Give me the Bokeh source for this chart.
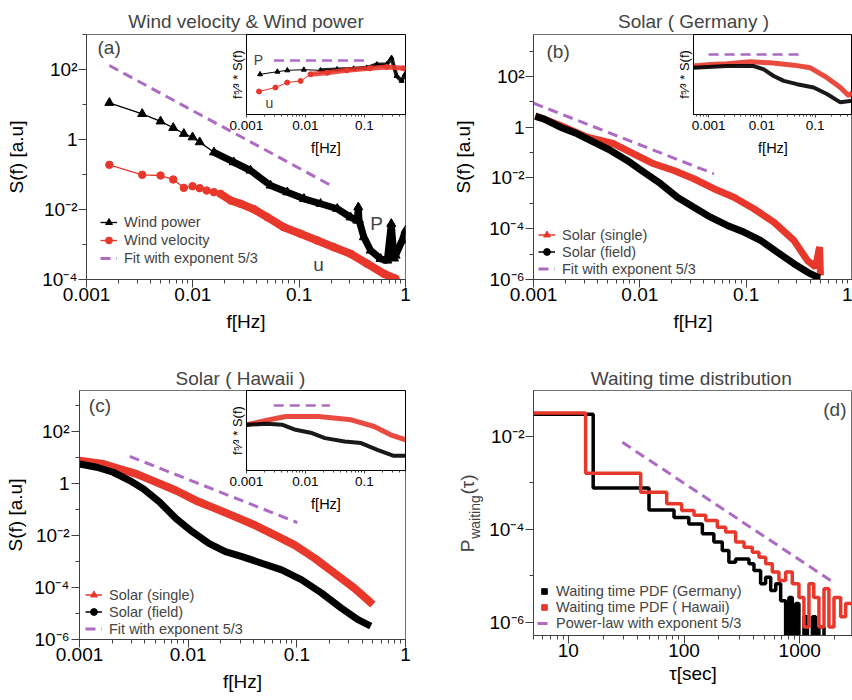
import math
from bokeh.plotting import figure
from bokeh.models import (Range1d, FixedTicker, CustomJSTickFormatter, Legend,
                          LegendItem, Label, GridBox)
from bokeh.embed import file_html
from bokeh.resources import INLINE

FONT = "Liberation Sans"
RED = "#e8372b"
PURPLE = "#ad6bc4"
FRAME = "#707070"
AXIS = "#404040"

# ---------------- tick labels ----------------
f_ticks = [0.001, 0.01, 0.1, 1]
f_tick_labels = ["0.001", "0.01", "0.1", "1"]
inset_f_ticks = [0.001, 0.01, 0.1]
inset_f_tick_labels = ["0.001", "0.01", "0.1"]
S_ticks_a = [1e-4, 1e-2, 1, 1e2]
S_tick_labels_a = ["10⁻⁴", "10⁻²", "1", "10²"]
S_ticks_bc = [1e-6, 1e-4, 1e-2, 1, 1e2]
S_tick_labels_bc = ["10⁻⁶", "10⁻⁴", "10⁻²", "1", "10²"]
tau_ticks = [10, 100, 1000]
tau_tick_labels = ["10", "100", "1000"]
P_ticks = [1e-6, 1e-4, 1e-2]
P_tick_labels = ["10⁻⁶", "10⁻⁴", "10⁻²"]

# ---------------- (a) wind ----------------
wp_f = [0.00164, 0.00334, 0.00497, 0.00654, 0.00823, 0.00994, 0.0116, 0.0158, 0.0243,
        0.0349, 0.0538, 0.0774, 0.111, 0.159, 0.228, 0.304, 0.352, 0.36, 0.365, 0.406,
        0.47, 0.583, 0.674, 0.735, 0.78, 0.807, 0.93, 1.0]
wp_S = [11.2, 5.4, 3.3, 2.16, 1.46, 1.16, 0.84, 0.43, 0.224,
        0.130, 0.0485, 0.0312, 0.0202, 0.0146, 0.0105, 0.006, 0.00485, 0.0116, 0.005, 0.00162,
        0.000674, 0.00039, 0.000349, 0.0039, 0.0004, 0.000485, 0.0013, 0.0025]
wv_f = [0.00164, 0.00334, 0.00497, 0.00654, 0.00823, 0.00994, 0.0116, 0.0135, 0.0158,
        0.0182, 0.0227, 0.0281, 0.0375, 0.0501, 0.0718, 0.103, 0.148, 0.212, 0.304,
        0.437, 0.626, 0.807]
wv_S = [0.189, 0.098, 0.0936, 0.072, 0.0416, 0.0463, 0.0406, 0.0349, 0.0312,
        0.0281, 0.0181, 0.0146, 0.0102, 0.00603, 0.00312, 0.00202, 0.0013, 0.000838, 0.000542,
        0.000281, 0.000146, 0.000105]
fit_a_f = [0.00164, 0.205]
fit_a_S = [130, 0.0464]

# inset (a): compensated spectra (arbitrary units)
ia_P_f = [0.0017, 0.00334, 0.00493, 0.0094, 0.018, 0.0344, 0.0657, 0.11, 0.163, 0.241,
          0.29, 0.353, 0.43, 0.49]
ia_P_v = [5.02, 5.35, 5.52, 5.6, 5.52, 5.64, 5.72, 5.84, 6.26, 6.26, 7.07, 4.81, 4.2, 5.02]
ia_u_f = [0.00163, 0.0031, 0.0049, 0.0083, 0.0122, 0.0233, 0.0506, 0.126, 0.241, 0.46]
ia_u_v = [2.88, 3.37, 3.99, 4.2, 5.02, 5.22, 5.52, 5.77, 5.93, 5.77]
ia_fit_f = [0.00292, 0.099]
ia_fit_v = [6.75, 6.75]

# ---------------- (b) solar Germany ----------------
gs_f = [0.00104, 0.00179, 0.0032, 0.0057, 0.00877, 0.0135, 0.0209, 0.0322, 0.0497,
        0.0766, 0.118, 0.182, 0.281, 0.376, 0.45, 0.49, 0.5]
gs_S = [2.8, 1.17, 0.404, 0.222, 0.0897, 0.0362, 0.0197, 0.0093, 0.00376,
        0.00175, 0.000612, 0.000182, 3.47e-5, 5.65e-6, 3.1e-6, 1.9e-5, 1.45e-6]
gf_f = [0.00104, 0.00125, 0.00179, 0.00258, 0.00369, 0.0053, 0.0076, 0.0109, 0.0157,
        0.0225, 0.0322, 0.0462, 0.0664, 0.0951, 0.1365, 0.196, 0.281, 0.376, 0.467, 0.5]
gf_S = [2.64, 2.14, 1.0, 0.55, 0.257, 0.121, 0.0489, 0.0169, 0.00592,
        0.00175, 0.000708, 0.000286, 0.000135, 7.35e-5, 3.47e-5, 1.2e-5, 4.19e-6, 1.96e-6,
        1.24e-6, 1.2e-6]
fit_b_f = [0.001, 0.0497]
fit_b_S = [8.8, 0.0146]

ib_s_f = [0.00052, 0.00108, 0.00221, 0.00606, 0.0144, 0.0394, 0.081, 0.166, 0.296, 0.424, 0.5]
ib_s_v = [6.05, 6.26, 6.33, 6.58, 6.46, 6.17, 5.84, 4.6, 3.37, 2.35, 2.75]
ib_f_f = [0.00052, 0.00221, 0.007, 0.0108, 0.0166, 0.0256, 0.0456, 0.0934, 0.166, 0.296, 0.5]
ib_f_v = [5.84, 6.05, 6.05, 5.64, 4.81, 4.2, 3.79, 3.37, 2.56, 1.52, 1.73]
ib_fit_f = [0.001, 0.0566]
ib_fit_v = [7.49, 7.49]

# ---------------- (c) solar Hawaii ----------------
hs_f = [0.001, 0.00166, 0.00235, 0.00333, 0.00507, 0.00772, 0.0117, 0.0179, 0.0272,
        0.0413, 0.0629, 0.0957, 0.146, 0.222, 0.337, 0.447, 0.5]
hs_S = [7.55, 5.65, 3.64, 2.35, 1.13, 0.54, 0.224, 0.108, 0.0522,
        0.0249, 0.0104, 0.0043, 0.00134, 0.000357, 9.6e-5, 3.4e-5, 2.2e-5]
hf_f = [0.001, 0.00144, 0.00204, 0.0029, 0.00386, 0.00545, 0.00772, 0.0109, 0.0155,
        0.022, 0.0313, 0.0475, 0.0724, 0.11, 0.168, 0.255, 0.362, 0.479]
hf_S = [5.65, 4.23, 2.72, 1.3, 0.628, 0.195, 0.045, 0.014, 0.005,
        0.00241, 0.00155, 0.00086, 0.000478, 0.0002, 6.2e-5, 1.65e-5, 5.9e-6, 3.3e-6]
fit_c_f = [0.0029, 0.101]
fit_c_S = [11.1, 0.0316]

ic_s_f = [0.001, 0.00245, 0.00464, 0.0167, 0.06, 0.147, 0.279, 0.5]
ic_s_v = [5.71, 6.34, 6.75, 6.75, 6.34, 5.5, 4.46, 3.84]
ic_f_f = [0.001, 0.00215, 0.0041, 0.00681, 0.0129, 0.0215, 0.0464, 0.0881, 0.167, 0.316, 0.5]
ic_f_v = [5.71, 5.84, 5.71, 5.09, 4.68, 4.05, 3.63, 3.43, 2.59, 1.84, 1.84]
ic_fit_f = [0.0029, 0.0261]
ic_fit_v = [8.13, 8.13]

# ---------------- (d) waiting times (histogram bin edges / values) ----------------
EMPTY = 1e-9   # empty bin, falls below the axis floor
ger_edges = [4, 16.4, 49.8, 81.9, 110, 144, 181, 214, 244, 279, 364, 402, 459, 507, 561,
             620, 684, 755, 807, 862, 922, 984, 1087, 1164, 1286, 1374, 1465, 1620, 1800]
ger_P = [0.030, 7.8e-4, 2.6e-4, 1.8e-4, 1.3e-4, 8.0e-5, 5.3e-5, 3.5e-5, 1.95e-5, 2.3e-5,
         1.8e-5, 1.3e-5, 6.7e-6, 9.3e-6, 4.8e-6, 6.7e-6, 2.9e-6, EMPTY, 3.4e-6, EMPTY,
         2.5e-6, EMPTY, 1.3e-6, EMPTY, 1.3e-6, EMPTY, 7.8e-7, EMPTY]
haw_edges = [4, 14.1, 42.2, 70.8, 95.3, 122, 154, 194, 229, 279, 330, 389, 444, 507, 579,
             661, 755, 862, 984, 1087, 1201, 1322, 1465, 1620, 1787, 1976, 2257, 2493, 2865]
haw_P = [0.032, 1.62e-3, 6.3e-4, 3.55e-4, 2.54e-4, 2.0e-4, 1.55e-4, 1.11e-4, 8.7e-5, 5.3e-5,
         4.1e-5, 3.2e-5, 2.5e-5, 1.8e-5, 1.2e-5, 7.9e-6, 1.2e-5, 6.7e-6, 3.4e-6, 7.8e-7,
         6.7e-6, 3.4e-6, 7.8e-7, 5.2e-6, 7.8e-7, 3.4e-6, 1.3e-6, 2.5e-6]
fit_d_tau = [29.3, 2042]
fit_d_P = [7.5e-3, 6.7e-6]

TITLE_A = "Wind velocity & Wind power"
TITLE_B = "Solar ( Germany )"
TITLE_C = "Solar ( Hawaii )"
TITLE_D = "Waiting time distribution"


def decade_minors(lo, hi):
    return [m * 10.0 ** e for e in range(lo, hi) for m in range(2, 10)]


def odd_decades(lo, hi):
    return [10.0 ** e for e in range(lo, hi, 2)]


def log_formatter(vals, labs):
    return CustomJSTickFormatter(args=dict(vals=vals, labs=labs), code="""
        for (let i = 0; i < vals.length; i++) {
            if (Math.abs(Math.log10(tick) - Math.log10(vals[i])) < 1e-6) { return labs[i]; }
        }
        return "";
    """)


def style_axis(ax, lab_size="19px", axlab_size="19px", tick_out=8, minor_out=4):
    ax.axis_line_color = AXIS
    ax.major_tick_line_color = AXIS
    ax.minor_tick_line_color = AXIS
    ax.major_tick_out = tick_out
    ax.major_tick_in = 0
    ax.minor_tick_out = minor_out
    ax.minor_tick_in = 0
    ax.major_label_text_font = FONT
    ax.major_label_text_font_size = lab_size
    ax.major_label_text_color = "black"
    ax.axis_label_text_font = FONT
    ax.axis_label_text_font_size = axlab_size
    ax.axis_label_text_font_style = "normal"
    ax.axis_label_text_color = "black"


def make_main(xr, yr, fw, fh, bl, br, bt, bb, x_std=0, x_lab_std=7, y_std=1, y_lab_std=12):
    p = figure(x_axis_type="log", y_axis_type="log",
               x_range=Range1d(*xr), y_range=Range1d(*yr),
               frame_width=fw, frame_height=fh,
               min_border_left=bl, min_border_right=br, min_border_top=bt, min_border_bottom=bb,
               output_backend="svg", toolbar_location=None)
    p.grid.visible = False
    p.outline_line_color = FRAME
    p.background_fill_color = "white"
    p.border_fill_color = "white"
    style_axis(p.xaxis[0])
    style_axis(p.yaxis[0])
    p.xaxis[0].major_label_standoff = x_std
    p.xaxis[0].axis_label_standoff = x_lab_std
    p.yaxis[0].major_label_standoff = y_std
    p.yaxis[0].axis_label_standoff = y_lab_std
    return p


def make_inset(xr, fw, bl, br, bt, bb):
    p = figure(x_axis_type="log", x_range=Range1d(*xr), y_range=Range1d(0, 10),
               frame_width=fw, frame_height=80,
               min_border_left=bl, min_border_right=br, min_border_top=bt, min_border_bottom=bb,
               output_backend="svg", toolbar_location=None)
    p.grid.visible = False
    p.border_fill_color = None
    p.background_fill_color = "white"
    p.outline_line_color = "black"
    xa = p.xaxis[0]
    style_axis(xa, lab_size="13.5px", axlab_size="14.5px", tick_out=3, minor_out=2)
    xa.axis_line_color = "black"
    xa.ticker = FixedTicker(ticks=inset_f_ticks, minor_ticks=decade_minors(-4, 0))
    xa.formatter = log_formatter(inset_f_ticks, inset_f_tick_labels)
    xa.axis_label = "f[Hz]"
    xa.major_label_standoff = 3
    xa.axis_label_standoff = 7
    ya = p.yaxis[0]
    style_axis(ya, lab_size="0px", axlab_size="13px", tick_out=0, minor_out=0)
    ya.axis_line_color = "black"
    ya.ticker = FixedTicker(ticks=[])
    ya.major_label_standoff = 0
    ya.axis_label_standoff = 2
    ya.axis_label = "f⁵⁄³ * S(f)"
    return p


def add_text(p, x, y, text, size="19px", align="left", baseline="middle", angle=0.0):
    p.add_layout(Label(x=x, y=y, text=text, text_font=FONT, text_font_size=size,
                       text_align=align, text_baseline=baseline, angle=angle))


def add_legend(p, items, loc, item_h, spacing=0, glyph_w=17, standoff=7):
    lg = Legend(items=items, location=loc, spacing=spacing, padding=0, margin=0,
                glyph_height=item_h, glyph_width=glyph_w, label_height=item_h,
                label_standoff=standoff, border_line_color=None, background_fill_alpha=0,
                label_text_font=FONT, label_text_font_size="14.5px", inactive_fill_alpha=0)
    p.add_layout(lg)


def dashed(p, x, y, width=3):
    return p.line(x, y, color=PURPLE, line_width=width, line_dash="10 6")


# ======================= (a) =======================
pa = make_main((0.001, 1), (1e-4, 1e3), 319, 245, 86, 15, 34, 73)
pa.xaxis[0].ticker = FixedTicker(ticks=f_ticks, minor_ticks=decade_minors(-3, 0))
pa.xaxis[0].formatter = log_formatter(f_ticks, f_tick_labels)
pa.yaxis[0].ticker = FixedTicker(ticks=S_ticks_a, minor_ticks=odd_decades(-5, 5))
pa.yaxis[0].formatter = log_formatter(S_ticks_a, S_tick_labels_a)
pa.xaxis[0].axis_label = "f[Hz]"
pa.yaxis[0].axis_label = "S(f) [a.u]"

ra_fit = dashed(pa, fit_a_f, fit_a_S)
pa.line(wv_f[9:], wv_S[9:], color=RED, line_width=8)
ra_v_line = pa.line(wv_f, wv_S, color=RED, line_width=1.3)
ra_v_mk = pa.scatter(wv_f, wv_S, marker="circle", size=7.5, color=RED)
pa.line(wp_f[7:], wp_S[7:], color="black", line_width=7)
ra_p_line = pa.line(wp_f, wp_S, color="black", line_width=1.3)
ra_p_mk = pa.scatter(wp_f, wp_S, marker="triangle", size=9, color="black")
add_legend(pa, [LegendItem(label="Wind power", renderers=[ra_p_line, ra_p_mk]),
                LegendItem(label="Wind velocity", renderers=[ra_v_line, ra_v_mk]),
                LegendItem(label="Fit with exponent 5/3", renderers=[ra_fit])],
           (14, 12), 18)

ia = make_inset((0.001, 0.5), 159, 33, 15, 34, 66)
dashed(ia, ia_fit_f, ia_fit_v, width=2.5)
ia.line(ia_P_f, ia_P_v, color="black", line_width=1)
ia.line(ia_P_f[4:], ia_P_v[4:], color="black", line_width=4, alpha=0.85)
ia.scatter(ia_P_f, ia_P_v, marker="triangle", size=5, color="black")
ia.line(ia_u_f, ia_u_v, color=RED, line_width=1)
ia.line(ia_u_f[4:], ia_u_v[4:], color=RED, line_width=5, alpha=0.85)
ia.scatter(ia_u_f, ia_u_v, marker="circle", size=5, color=RED)

# ======================= (b) =======================
pb = make_main((0.001, 1), (1e-6, 4467), 319, 245, 113, 0, 34, 73)
pb.xaxis[0].ticker = FixedTicker(ticks=f_ticks, minor_ticks=decade_minors(-3, 0))
pb.xaxis[0].formatter = log_formatter(f_ticks, f_tick_labels)
pb.yaxis[0].ticker = FixedTicker(ticks=S_ticks_bc, minor_ticks=odd_decades(-7, 5))
pb.yaxis[0].formatter = log_formatter(S_ticks_bc, S_tick_labels_bc)
pb.xaxis[0].axis_label = "f[Hz]"
pb.yaxis[0].axis_label = "S(f) [a.u]"

rb_fit = dashed(pb, fit_b_f, fit_b_S)
pb.line(gs_f, gs_S, color=RED, line_width=7)
pb.line(gf_f, gf_S, color="black", line_width=7)
rb_s_l = pb.line(gs_f, gs_S, color=RED, line_width=1.5, visible=False)
rb_s_m = pb.scatter(gs_f, gs_S, marker="triangle", size=5, color=RED, visible=False)
rb_f_l = pb.line(gf_f, gf_S, color="black", line_width=1.5, visible=False)
rb_f_m = pb.scatter(gf_f, gf_S, marker="circle", size=7, color="black", visible=False)
add_legend(pb, [LegendItem(label="Solar (single)", renderers=[rb_s_l, rb_s_m]),
                LegendItem(label="Solar (field)", renderers=[rb_f_l, rb_f_m]),
                LegendItem(label="Fit with exponent 5/3", renderers=[rb_fit])],
           (5, 2), 17)

ib = make_inset((0.00052, 0.5), 159, 25, 0, 34, 66)
dashed(ib, ib_fit_f, ib_fit_v, width=2.5)
ib.line(ib_s_f, ib_s_v, color=RED, line_width=5, alpha=0.9)
ib.line(ib_f_f, ib_f_v, color="black", line_width=4, alpha=0.9)

# ======================= (c) =======================
pc = make_main((0.001, 1), (1e-6, 3800), 329, 249, 74, 15, 38, 59, y_std=2, y_lab_std=5)
pc.xaxis[0].ticker = FixedTicker(ticks=f_ticks, minor_ticks=decade_minors(-3, 0))
pc.xaxis[0].formatter = log_formatter(f_ticks, f_tick_labels)
pc.yaxis[0].ticker = FixedTicker(ticks=S_ticks_bc, minor_ticks=odd_decades(-7, 5))
pc.yaxis[0].formatter = log_formatter(S_ticks_bc, S_tick_labels_bc)
pc.xaxis[0].axis_label = "f[Hz]"
pc.yaxis[0].axis_label = "S(f) [a.u]"

rc_fit = dashed(pc, fit_c_f, fit_c_S)
pc.line(hs_f, hs_S, color=RED, line_width=8)
pc.line(hf_f, hf_S, color="black", line_width=7)
rc_s_l = pc.line(hs_f, hs_S, color=RED, line_width=1.5, visible=False)
rc_s_m = pc.scatter(hs_f, hs_S, marker="triangle", size=7, color=RED, visible=False)
rc_f_l = pc.line(hf_f, hf_S, color="black", line_width=1.5, visible=False)
rc_f_m = pc.scatter(hf_f, hf_S, marker="circle", size=8, color="black", visible=False)
add_legend(pc, [LegendItem(label="Solar (single)", renderers=[rc_s_l, rc_s_m]),
                LegendItem(label="Solar (field)", renderers=[rc_f_l, rc_f_m]),
                LegendItem(label="Fit with exponent 5/3", renderers=[rc_fit])],
           (6, 2), 17)

ic = make_inset((0.001, 0.5), 159, 33, 15, 38, 60)
dashed(ic, ic_fit_f, ic_fit_v, width=2.5)
ic.line(ic_s_f, ic_s_v, color=RED, line_width=5, alpha=0.9)
ic.line(ic_f_f, ic_f_v, color="black", line_width=4, alpha=0.9)

# ======================= (d) =======================
pd_ = make_main((5, 2857), (5.14e-7, 0.098), 319, 245, 113, 0, 38, 65, x_lab_std=3)
pd_.xaxis[0].ticker = FixedTicker(ticks=tau_ticks,
                                  minor_ticks=[m * 10.0 ** e for e in range(0, 4) for m in range(2, 10)])
pd_.xaxis[0].formatter = log_formatter(tau_ticks, tau_tick_labels)
pd_.yaxis[0].ticker = FixedTicker(ticks=P_ticks, minor_ticks=odd_decades(-7, 0))
pd_.yaxis[0].formatter = log_formatter(P_ticks, P_tick_labels)
pd_.xaxis[0].axis_label = "τ[sec]"

pd_.step(ger_edges, ger_P + [ger_P[-1]], mode="after", color="black", line_width=3.5)
pd_.step(haw_edges, haw_P + [haw_P[-1]], mode="after", color=RED, line_width=3.5)
rd_fit = dashed(pd_, fit_d_tau, fit_d_P)
rd_g_m = pd_.scatter(ger_edges[:-1], ger_P, marker="square", size=11, color="black", visible=False)
rd_h_m = pd_.scatter(haw_edges[:-1], haw_P, marker="square", size=11, color=RED, visible=False)
add_legend(pd_, [LegendItem(label="Waiting time PDF (Germany)", renderers=[rd_g_m]),
                 LegendItem(label="Waiting time PDF ( Hawaii)", renderers=[rd_h_m]),
                 LegendItem(label="Power-law with exponent 5/3", renderers=[rd_fit])],
           (4, 4), 14, spacing=-7, glyph_w=14, standoff=5)

# ============ transparent text layer (page pixel coordinates) ============
tl = figure(x_range=Range1d(1, 851), y_range=Range1d(699, 1),
            frame_width=850, frame_height=698, min_border=0,
            min_border_left=0, min_border_right=0, min_border_top=0, min_border_bottom=0,
            x_axis_location=None, y_axis_location=None, title=None,
            output_backend="svg", toolbar_location=None)
tl.grid.visible = False
tl.outline_line_color = None
tl.background_fill_color = None
tl.border_fill_color = None
# panel titles
add_text(tl, 245.5, 20.5, TITLE_A, align="center")
add_text(tl, 693, 20.5, TITLE_B, align="center")
add_text(tl, 240, 377.5, TITLE_C, align="center")
add_text(tl, 690.7, 377.5, TITLE_D, align="center")
# panel tags and curve tags
add_text(tl, 97, 47, "(a)")
add_text(tl, 546, 50.7, "(b)")
add_text(tl, 88.3, 404.7, "(c)")
add_text(tl, 846, 409, "(d)", align="right")
add_text(tl, 376, 223, "P", align="center")
add_text(tl, 318, 264, "u", align="center")
add_text(tl, 258, 59, "P", size="14px", align="center")
add_text(tl, 269, 102.5, "u", size="14px", align="center")
# y-axis label of (d): P with subscript "waiting", then (τ)
add_text(tl, 466.7, 551.7, "P", angle=math.pi / 2)
add_text(tl, 474, 538.3, "waiting", size="14px", angle=math.pi / 2)
add_text(tl, 466.7, 494, "(τ)", angle=math.pi / 2)

# grid lines (px): cols 0,1,2,213,420,668,851,852 ; rows 0,1,180,352,530,698,699,700
grid = GridBox(children=[(pa, 0, 0, 3, 4), (pb, 0, 4, 3, 3),
                         (pc, 3, 2, 2, 2), (pd_, 3, 4, 4, 3),
                         (ia, 0, 3, 2, 1), (ib, 0, 5, 2, 2), (ic, 3, 3, 1, 1),
                         (tl, 1, 1, 5, 5)],
               rows=["1px", "179px", "172px", "178px", "168px", "1px", "1px"],
               cols=["1px", "1px", "211px", "207px", "248px", "183px", "1px"], spacing=0)

open("out.html", "w").write(file_html(grid, INLINE))
